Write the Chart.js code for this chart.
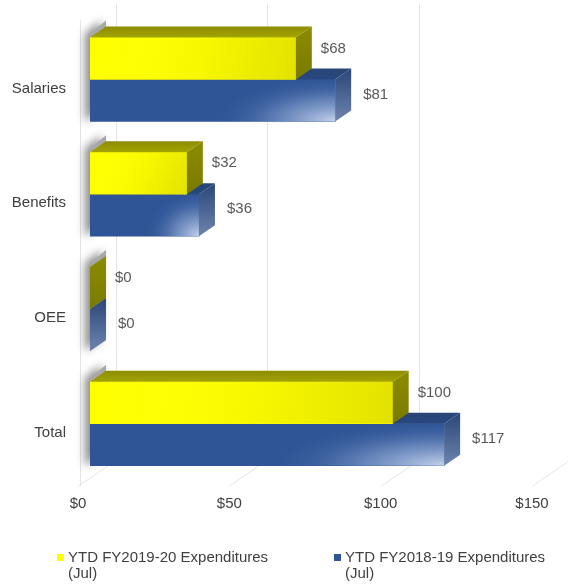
<!DOCTYPE html>
<html>
<head>
<meta charset="utf-8">
<script src="https://cdn.jsdelivr.net/npm/chart.js@4.4.0/dist/chart.umd.min.js"></script>
<style>
html, body { margin: 0; padding: 0; background: #fff; }
</style>
</head>
<body>
<canvas id="myChart" width="568" height="584"></canvas>
<script>
const categories = ['Salaries', 'Benefits', 'OEE', 'Total'];
const fy2020 = [68, 32, 0, 100];
const fy2019 = [81, 36, 0, 117];
const seriesNames = [['YTD FY2019-20 Expenditures', '(Jul)'], ['YTD FY2018-19 Expenditures', '(Jul)']];
const xTicks = [0, 50, 100, 150];

const FONT = '"Liberation Sans", Arial, sans-serif';
// depth of a bar and of the whole box (x, y offsets)
const DX = 16, DY = -11;
const BOX_DX = 38, BOX_DY = -26;

const faces = [
    { front: '#ffff00', top: '#a3a300', sideTop: '#8c8c00', sideBottom: '#7a7a00' },
    { front: '#2f5597', top: '#27477f', sideTop: '#2a4678', sideBottom: '#6d84ad' }
];

function barBox(bar) {
    const p = bar.getProps(['x', 'y', 'base', 'height'], true);
    return { x0: p.base, x1: p.x, y0: p.y - p.height / 2, y1: p.y + p.height / 2 };
}

function poly(ctx, pts, fill) {
    ctx.beginPath();
    ctx.moveTo(pts[0][0], pts[0][1]);
    for (let i = 1; i < pts.length; i++) ctx.lineTo(pts[i][0], pts[i][1]);
    ctx.closePath();
    ctx.fillStyle = fill;
    ctx.fill();
}

const threeD = {
    id: 'threeD',
    beforeDatasetsDraw(chart) {
        const ctx = chart.ctx;
        const xs = chart.scales.x;
        const area = chart.chartArea;
        const floorY = area.bottom + 5;
        ctx.save();
        ctx.strokeStyle = '#e4e4e4';
        ctx.lineWidth = 1;
        // back wall gridlines and floor lines
        xTicks.forEach(v => {
            const fx = Math.round(xs.getPixelForValue(v) - 12) + 0.5;
            ctx.beginPath();
            ctx.moveTo(fx + BOX_DX, 4);
            ctx.lineTo(fx + BOX_DX, floorY + BOX_DY);
            ctx.stroke();
            ctx.beginPath();
            ctx.moveTo(fx, floorY);
            ctx.lineTo(fx + BOX_DX, floorY + BOX_DY);
            ctx.stroke();
        });
        // front edge of the left wall
        ctx.beginPath();
        ctx.moveTo(80.5, 20);
        ctx.lineTo(80.5, floorY);
        ctx.stroke();

        // soft shadows of each bar group on the left wall
        const m0 = chart.getDatasetMeta(0), m1 = chart.getDatasetMeta(1);
        m0.data.forEach((bar, i) => {
            const a = barBox(bar), b = barBox(m1.data[i]);
            ctx.save();
            ctx.shadowColor = 'rgba(0,0,0,0.45)';
            ctx.shadowBlur = 8;
            ctx.shadowOffsetX = -5;
            ctx.shadowOffsetY = 0;
            poly(ctx, [[a.x0, a.y0 - 4], [a.x0 + DX, a.y0 + DY - 6], [a.x0 + DX, b.y1 + DY], [a.x0, b.y1]], '#a8a8a8');
            ctx.restore();
        });
        ctx.restore();
    },
    afterDatasetDraw(chart, args) {
        const ctx = chart.ctx;
        const f = faces[args.index];
        ctx.save();
        args.meta.data.forEach(bar => {
            const b = barBox(bar);
            const w = b.x1 - b.x0, h = b.y1 - b.y0;
            // front face shading
            if (w > 0) {
                ctx.save();
                ctx.beginPath();
                ctx.rect(b.x0, b.y0, w, h);
                ctx.clip();
                if (args.index === 0) {
                    const g = ctx.createLinearGradient(b.x0, b.y0, b.x1, b.y1);
                    g.addColorStop(0, 'rgba(255,255,255,0)');
                    g.addColorStop(0.55, 'rgba(120,120,0,0.06)');
                    g.addColorStop(1, 'rgba(110,110,0,0.2)');
                    ctx.fillStyle = g;
                    ctx.fillRect(b.x0, b.y0, w, h);
                } else {
                    ctx.translate(b.x1, b.y1);
                    ctx.scale(1, (h * 1.1) / (w * 0.5));
                    const g = ctx.createRadialGradient(0, 0, 0, 0, 0, w * 0.5);
                    g.addColorStop(0, 'rgba(205,218,240,0.95)');
                    g.addColorStop(0.45, 'rgba(160,182,222,0.5)');
                    g.addColorStop(1, 'rgba(47,85,151,0)');
                    ctx.fillStyle = g;
                    ctx.beginPath();
                    ctx.arc(0, 0, w * 0.5, 0, Math.PI * 2);
                    ctx.fill();
                }
                ctx.restore();
            }
            // top face
            const tg = ctx.createLinearGradient(b.x0, b.y0, b.x0, b.y0 + DY);
            tg.addColorStop(0, f.top);
            tg.addColorStop(1, f.sideTop);
            poly(ctx, [[b.x0, b.y0], [b.x0 + DX, b.y0 + DY], [b.x1 + DX, b.y0 + DY], [b.x1, b.y0]], tg);
            // right face
            const sg = ctx.createLinearGradient(b.x1, b.y0 + DY, b.x1, b.y1);
            sg.addColorStop(0, f.sideTop);
            sg.addColorStop(1, f.sideBottom);
            poly(ctx, [[b.x1, b.y0], [b.x1 + DX, b.y0 + DY], [b.x1 + DX, b.y1 + DY], [b.x1, b.y1]], sg);
        });
        ctx.restore();
    },
    afterDatasetsDraw(chart) {
        const ctx = chart.ctx;
        ctx.save();
        ctx.font = '15px ' + FONT;
        ctx.fillStyle = '#595959';
        ctx.textAlign = 'left';
        ctx.textBaseline = 'middle';
        chart.data.datasets.forEach((ds, d) => {
            chart.getDatasetMeta(d).data.forEach((bar, i) => {
                const b = barBox(bar);
                const yMid = (b.y0 + b.y1) / 2;
                ctx.fillText('$' + ds.data[i], b.x1 + (d === 0 ? 25 : 28), yMid + (d === 0 ? -10 : -6));
            });
        });
        ctx.restore();
    },
    afterDraw(chart) {
        // two-line legend under the axis
        const ctx = chart.ctx;
        const spots = [57, 334];
        ctx.save();
        ctx.font = '15px ' + FONT;
        ctx.textAlign = 'left';
        ctx.textBaseline = 'middle';
        chart.data.datasets.forEach((ds, d) => {
            const x = spots[d];
            ctx.fillStyle = ds.backgroundColor;
            ctx.fillRect(x, 554, 7, 7);
            ctx.fillStyle = '#404040';
            ds.label.forEach((line, k) => ctx.fillText(line, x + 11, 558 + k * 16));
        });
        ctx.restore();
    }
};

const ctx = document.getElementById('myChart').getContext('2d');
const myChart = new Chart(ctx, {
    type: 'bar',
    data: {
        labels: categories,
        datasets: [{
            label: seriesNames[0],
            data: fy2020,
            backgroundColor: faces[0].front,
            barThickness: 42
        }, {
            label: seriesNames[1],
            data: fy2019,
            backgroundColor: faces[1].front,
            barThickness: 42
        }]
    },
    options: {
        indexAxis: 'y',
        responsive: false,
        animation: false,
        layout: { padding: { top: 22, right: 24, bottom: 0, left: 0 } },
        plugins: {
            legend: { display: false },
            tooltip: { enabled: false }
        },
        scales: {
            x: {
                min: 0,
                max: 150,
                afterFit: s => {
                    s.height = 103;
                    s.paddingLeft = 0;
                    s.paddingRight = 0;
                },
                afterBuildTicks: s => { s.ticks = xTicks.map(v => ({ value: v })); },
                grid: { display: false, drawTicks: false },
                border: { display: false },
                ticks: {
                    padding: 14,
                    labelOffset: -12,
                    color: '#404040',
                    font: { family: FONT, size: 15 },
                    callback: v => '$' + v
                }
            },
            y: {
                afterFit: s => {
                    s.width = 90;
                    s.paddingTop = 0;
                    s.paddingBottom = 0;
                },
                grid: { display: false, drawTicks: false },
                border: { display: false },
                ticks: {
                    padding: 24,
                    labelOffset: 9,
                    color: '#404040',
                    font: { family: FONT, size: 15 }
                }
            }
        }
    },
    plugins: [threeD]
});
</script>
</body>
</html>
